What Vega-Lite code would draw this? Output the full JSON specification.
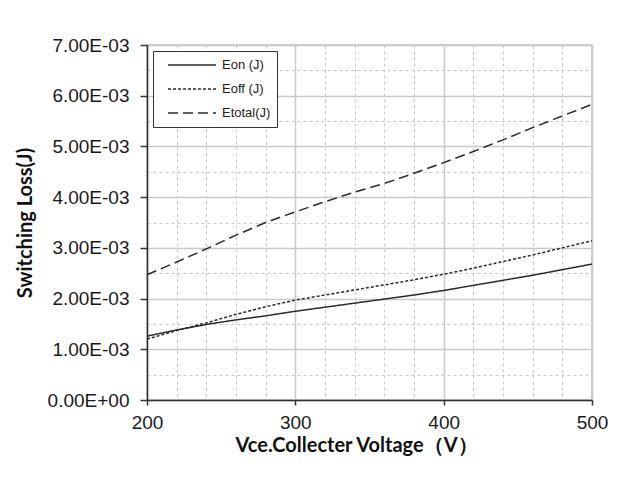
{
  "$schema": "https://vega.github.io/schema/vega-lite/v6.json",
  "width": 445,
  "height": 355,
  "autosize": "none",
  "padding": {"left": 147, "top": 45, "right": 44, "bottom": 96},
  "background": "white",
  "config": {
    "view": {"stroke": "#c0c0c0", "strokeWidth": 1.5},
    "font": "Liberation Sans"
  },
  "data": {
    "values": [
      {"v": 200, "s": "Eon (J)", "e": 0.00126},
      {"v": 220, "s": "Eon (J)", "e": 0.00138},
      {"v": 240, "s": "Eon (J)", "e": 0.00149},
      {"v": 260, "s": "Eon (J)", "e": 0.00158},
      {"v": 280, "s": "Eon (J)", "e": 0.00166},
      {"v": 300, "s": "Eon (J)", "e": 0.00175},
      {"v": 320, "s": "Eon (J)", "e": 0.00183},
      {"v": 340, "s": "Eon (J)", "e": 0.00191},
      {"v": 360, "s": "Eon (J)", "e": 0.00199},
      {"v": 380, "s": "Eon (J)", "e": 0.00207},
      {"v": 400, "s": "Eon (J)", "e": 0.00216},
      {"v": 420, "s": "Eon (J)", "e": 0.00226},
      {"v": 440, "s": "Eon (J)", "e": 0.00236},
      {"v": 460, "s": "Eon (J)", "e": 0.00246},
      {"v": 480, "s": "Eon (J)", "e": 0.00257},
      {"v": 500, "s": "Eon (J)", "e": 0.00268},
      {"v": 200, "s": "Eoff (J)", "e": 0.00120},
      {"v": 220, "s": "Eoff (J)", "e": 0.00137},
      {"v": 240, "s": "Eoff (J)", "e": 0.00152},
      {"v": 260, "s": "Eoff (J)", "e": 0.00169},
      {"v": 280, "s": "Eoff (J)", "e": 0.00184},
      {"v": 300, "s": "Eoff (J)", "e": 0.00197},
      {"v": 320, "s": "Eoff (J)", "e": 0.00207},
      {"v": 340, "s": "Eoff (J)", "e": 0.00217},
      {"v": 360, "s": "Eoff (J)", "e": 0.00227},
      {"v": 380, "s": "Eoff (J)", "e": 0.00237},
      {"v": 400, "s": "Eoff (J)", "e": 0.00248},
      {"v": 420, "s": "Eoff (J)", "e": 0.00260},
      {"v": 440, "s": "Eoff (J)", "e": 0.00273},
      {"v": 460, "s": "Eoff (J)", "e": 0.00286},
      {"v": 480, "s": "Eoff (J)", "e": 0.00300},
      {"v": 500, "s": "Eoff (J)", "e": 0.00314},
      {"v": 200, "s": "Etotal(J)", "e": 0.00247},
      {"v": 220, "s": "Etotal(J)", "e": 0.00272},
      {"v": 240, "s": "Etotal(J)", "e": 0.00298},
      {"v": 260, "s": "Etotal(J)", "e": 0.00325},
      {"v": 280, "s": "Etotal(J)", "e": 0.00350},
      {"v": 300, "s": "Etotal(J)", "e": 0.00371},
      {"v": 320, "s": "Etotal(J)", "e": 0.00391},
      {"v": 340, "s": "Etotal(J)", "e": 0.00410},
      {"v": 360, "s": "Etotal(J)", "e": 0.00427},
      {"v": 380, "s": "Etotal(J)", "e": 0.00447},
      {"v": 400, "s": "Etotal(J)", "e": 0.00468},
      {"v": 420, "s": "Etotal(J)", "e": 0.00490},
      {"v": 440, "s": "Etotal(J)", "e": 0.00513},
      {"v": 460, "s": "Etotal(J)", "e": 0.00537},
      {"v": 480, "s": "Etotal(J)", "e": 0.00560},
      {"v": 500, "s": "Etotal(J)", "e": 0.00583}
    ]
  },
  "mark": {"type": "line", "color": "#2a2a2a", "strokeWidth": 1.5},
  "encoding": {
    "x": {
      "field": "v",
      "type": "quantitative",
      "scale": {"domain": [200, 500], "nice": false, "zero": false},
      "axis": {
        "values": [200, 220, 240, 260, 280, 300, 320, 340, 360, 380, 400, 420, 440, 460, 480, 500],
        "title": "Vce.Collecter Voltage（V）",
        "titleFont": "Lato",
        "titleFontWeight": "bold",
        "titleFontSize": 20,
        "titleColor": "#111",
        "titlePadding": 3,
        "titleX": 209,
        "labelExpr": "datum.value % 100 === 0 ? datum.label : ''",
        "labelFlush": false,
        "labelOverlap": false,
        "labelFont": "Liberation Sans",
        "labelFontSize": 19,
        "labelColor": "#1a1a1a",
        "labelPadding": 8,
        "grid": true,
        "gridColor": "#c8c8c8",
        "gridWidth": {"condition": {"test": "datum.value % 100 === 0", "value": 1.5}, "value": 1},
        "gridDash": {"condition": {"test": "datum.value % 100 === 0", "value": []}, "value": [3, 3]},
        "tickSize": {"condition": {"test": "datum.value % 100 === 0", "value": 5}, "value": 0},
        "tickColor": "#333",
        "tickWidth": 1.5,
        "domainColor": "#333",
        "domainWidth": 1.5
      }
    },
    "y": {
      "field": "e",
      "type": "quantitative",
      "scale": {"domain": [0, 0.007], "nice": false},
      "axis": {
        "values": [0, 0.0005, 0.001, 0.0015, 0.002, 0.0025, 0.003, 0.0035, 0.004, 0.0045, 0.005, 0.0055, 0.006, 0.0065, 0.007],
        "title": "Switching Loss(J)",
        "titleFont": "Lato",
        "titleFontWeight": "bold",
        "titleFontSize": 20,
        "titleColor": "#111",
        "titlePadding": 12,
        "labelExpr": "round(datum.value * 2000) % 2 === 0 ? format(datum.value * 1000, '.2f') + (datum.value === 0 ? 'E+00' : 'E-03') : ''",
        "labelOverlap": false,
        "labelFont": "Liberation Sans",
        "labelFontSize": 19,
        "labelColor": "#1a1a1a",
        "labelPadding": 11,
        "grid": true,
        "gridColor": "#c8c8c8",
        "gridWidth": {"condition": {"test": "round(datum.value * 2000) % 2 === 0", "value": 1.5}, "value": 1},
        "gridDash": {"condition": {"test": "round(datum.value * 2000) % 2 === 0", "value": []}, "value": [3, 3]},
        "tickSize": {"condition": {"test": "round(datum.value * 2000) % 2 === 0", "value": 7}, "value": 0},
        "tickColor": "#333",
        "tickWidth": 1.5,
        "domainColor": "#333",
        "domainWidth": 1.5
      }
    },
    "strokeDash": {
      "field": "s",
      "type": "nominal",
      "scale": {"domain": ["Eon (J)", "Eoff (J)", "Etotal(J)"], "range": [[1, 0], [3, 2], [10, 5]]},
      "legend": {
        "title": null,
        "orient": "top-left",
        "offset": 6,
        "padding": 6,
        "strokeColor": "#333",
        "fillColor": "white",
        "symbolType": "stroke",
        "symbolSize": 2304,
        "symbolStrokeWidth": 1.5,
        "symbolStrokeColor": "#2a2a2a",
        "symbolOffset": 8,
        "labelOffset": 5,
        "clipHeight": 16,
        "rowPadding": 8,
        "labelFont": "Liberation Sans",
        "labelFontSize": 13,
        "labelColor": "#222",
        "labelExpr": "datum.label + '\u00a0\u00a0\u00a0\u00a0\u00a0\u00a0\u00a0'"
      }
    }
  }
}
